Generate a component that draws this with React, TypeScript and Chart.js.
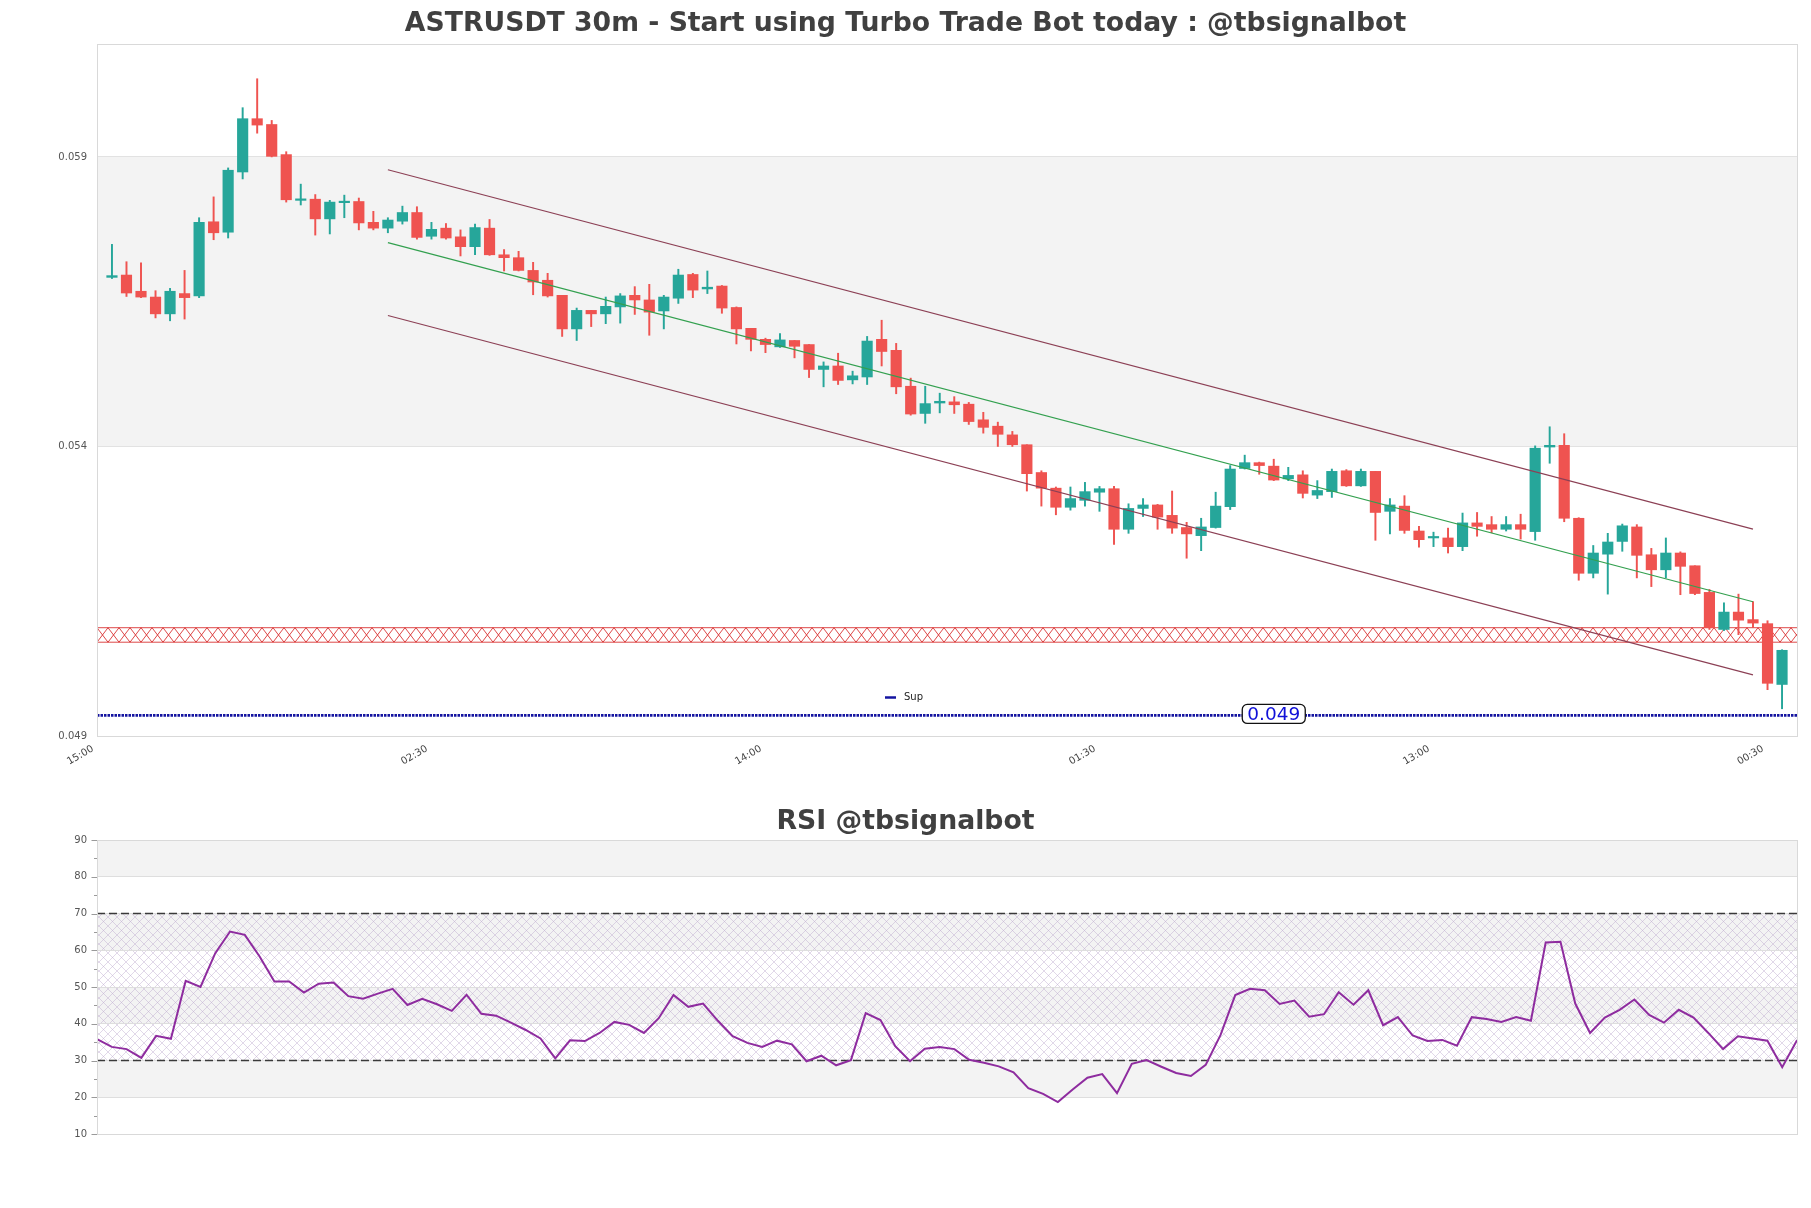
import React, { useEffect, useRef } from 'react';
import { Chart, registerables } from 'chart.js';

Chart.register(...registerables);

const W = 1811;
const MAIN_H = 800;
const RSI_H = 408;
const FONT = '"DejaVu Sans", "Liberation Sans", sans-serif';

// ---- candle data (30m) ----
const opens = [
  0.05692, 0.05696, 0.05668, 0.05658, 0.05629, 0.05664, 0.0566, 0.05788, 0.0577, 0.05874,
  0.05966, 0.05956, 0.05904, 0.05825, 0.05827, 0.05793, 0.05821, 0.05823, 0.05787, 0.05777,
  0.05789, 0.05804, 0.05763, 0.05777, 0.05762, 0.05745, 0.05777, 0.05731, 0.05726, 0.05704,
  0.05687, 0.05661, 0.05603, 0.05635, 0.05629, 0.05641, 0.05661, 0.05653, 0.05634, 0.05656,
  0.05697, 0.05672, 0.05677, 0.0564, 0.05604, 0.05585, 0.05572, 0.05583, 0.05576, 0.05533,
  0.05539, 0.05515, 0.0552, 0.05585, 0.05566, 0.05504, 0.05457, 0.05475, 0.05477, 0.05473,
  0.05446, 0.05435, 0.0542, 0.05403, 0.05355, 0.05328, 0.05295, 0.05307, 0.05321, 0.05327,
  0.05257, 0.05293, 0.05299, 0.05281, 0.0526, 0.05246, 0.0526, 0.05296, 0.05362, 0.05372,
  0.05366, 0.05344, 0.05351, 0.05316, 0.05322, 0.05358, 0.05332, 0.05357, 0.05288, 0.05297,
  0.05254, 0.05242, 0.05242, 0.05227, 0.05268, 0.05265, 0.05257, 0.05265, 0.05253, 0.05399,
  0.05402, 0.05276, 0.05181, 0.05214, 0.05236, 0.05261, 0.05213, 0.05187, 0.05216, 0.05194,
  0.05148, 0.05084, 0.05114, 0.05101, 0.05094, 0.04989,
];
const highs = [
  0.05749, 0.05719, 0.05717, 0.05669, 0.05673, 0.05704, 0.05795, 0.05831, 0.05881, 0.05985,
  0.06035, 0.05963, 0.05909, 0.05853, 0.05835, 0.05825, 0.05834, 0.05829, 0.05806, 0.05795,
  0.05815, 0.05814, 0.05787, 0.05785, 0.05774, 0.05784, 0.05792, 0.0574, 0.05737, 0.05718,
  0.05699, 0.05661, 0.05639, 0.05635, 0.05658, 0.05664, 0.05676, 0.0568, 0.05661, 0.05706,
  0.05699, 0.05703, 0.05678, 0.05641, 0.05604, 0.05587, 0.05595, 0.05583, 0.05576, 0.05546,
  0.05561, 0.0553, 0.0559, 0.05618, 0.05578, 0.05518, 0.05504, 0.05492, 0.05486, 0.05476,
  0.05459, 0.05442, 0.05426, 0.05403, 0.05358, 0.0533, 0.0533, 0.05338, 0.05331, 0.05331,
  0.05301, 0.0531, 0.053, 0.05323, 0.05269, 0.05276, 0.05321, 0.05367, 0.05385, 0.05373,
  0.05378, 0.05364, 0.05358, 0.05341, 0.05361, 0.0536, 0.05361, 0.05357, 0.0531, 0.05315,
  0.05262, 0.05252, 0.05259, 0.05285, 0.05286, 0.05279, 0.05279, 0.05283, 0.05401, 0.05434,
  0.05422, 0.05277, 0.05229, 0.0525, 0.05266, 0.05265, 0.05224, 0.05242, 0.05218, 0.05194,
  0.05153, 0.0513, 0.05145, 0.05132, 0.05099, 0.05049,
];
const lows = [
  0.0569, 0.05659, 0.05657, 0.05622, 0.05617, 0.0562, 0.05657, 0.05757, 0.0576, 0.05862,
  0.05941, 0.059, 0.05822, 0.05817, 0.05765, 0.05767, 0.05795, 0.05774, 0.05774, 0.05769,
  0.05784, 0.05758, 0.05758, 0.05758, 0.05729, 0.05731, 0.0573, 0.05703, 0.05703, 0.05662,
  0.05658, 0.0559, 0.05583, 0.05607, 0.05612, 0.05613, 0.05628, 0.05592, 0.05603, 0.05647,
  0.05657, 0.05664, 0.0563, 0.05577, 0.05565, 0.05562, 0.05571, 0.05553, 0.05519, 0.05503,
  0.05507, 0.05508, 0.05507, 0.05539, 0.05491, 0.05454, 0.0544, 0.05458, 0.05457, 0.05438,
  0.05423, 0.054, 0.054, 0.05323, 0.05297, 0.05282, 0.0529, 0.05297, 0.05288, 0.05231,
  0.0525, 0.05279, 0.05257, 0.0525, 0.05207, 0.0522, 0.05259, 0.05291, 0.05361, 0.05352,
  0.05341, 0.05341, 0.05311, 0.0531, 0.05312, 0.05331, 0.05331, 0.05238, 0.05249, 0.0525,
  0.05226, 0.05227, 0.05216, 0.0522, 0.05245, 0.05251, 0.05254, 0.0524, 0.05238, 0.05371,
  0.0527, 0.05169, 0.05173, 0.05145, 0.05219, 0.05173, 0.05158, 0.05173, 0.05144, 0.05144,
  0.05084, 0.05082, 0.05075, 0.05087, 0.0498, 0.04947,
];
const closes = [
  0.05695, 0.05665, 0.05658, 0.05629, 0.05668, 0.05657, 0.05787, 0.05769, 0.05877, 0.05966,
  0.05955, 0.05901, 0.05826, 0.05827, 0.05793, 0.05822, 0.05823, 0.05786, 0.05777, 0.05791,
  0.05804, 0.05761, 0.05775, 0.0576, 0.05745, 0.05778, 0.05731, 0.05726, 0.05704, 0.05684,
  0.0566, 0.05603, 0.05635, 0.05629, 0.05642, 0.0566, 0.05653, 0.05632, 0.05658, 0.05696,
  0.0567, 0.05675, 0.05639, 0.05603, 0.05585, 0.05576, 0.05584, 0.05573, 0.05533, 0.05539,
  0.05514, 0.05522, 0.05582, 0.05564, 0.05503, 0.05456, 0.05474, 0.05478, 0.05472, 0.05443,
  0.05433, 0.05421, 0.05403, 0.05353, 0.05328, 0.05295, 0.0531, 0.05322, 0.05327, 0.05257,
  0.05293, 0.05299, 0.05278, 0.05259, 0.05249, 0.05261, 0.05297, 0.05361, 0.05372, 0.05367,
  0.05342, 0.0535, 0.05319, 0.05324, 0.05357, 0.05332, 0.05357, 0.05286, 0.05299, 0.05255,
  0.05239, 0.05243, 0.05227, 0.05268, 0.05262, 0.05257, 0.05265, 0.05257, 0.05397, 0.05402,
  0.05276, 0.05181, 0.05216, 0.05235, 0.05263, 0.05212, 0.05187, 0.05216, 0.05193, 0.05146,
  0.05087, 0.05114, 0.051, 0.05095, 0.04991, 0.05048,
];

// ---- RSI values ----
const rsiValues = [
  35.8, 33.7, 33.1, 30.7, 36.7, 35.9, 51.7, 50.0, 59.2, 65.1,
  64.2, 58.3, 51.5, 51.5, 48.5, 50.9, 51.2, 47.5, 46.8, 48.2,
  49.5, 45.1, 46.8, 45.3, 43.5, 47.9, 42.7, 42.2, 40.3, 38.3,
  36.0, 30.6, 35.5, 35.3, 37.5, 40.5, 39.7, 37.5, 41.5, 47.8,
  44.6, 45.5, 40.8, 36.6, 34.8, 33.7, 35.4, 34.4, 29.8, 31.3,
  28.7, 30.1, 42.9, 41.0, 33.9, 29.8, 33.2, 33.7, 33.1, 30.2,
  29.4, 28.4, 26.8, 22.5, 20.9, 18.7, 22.1, 25.3, 26.3, 21.1,
  29.1, 30.1, 28.3, 26.6, 25.8, 28.8, 36.9, 47.8, 49.5, 49.1,
  45.4, 46.3, 41.9, 42.6, 48.6, 45.2, 49.1, 39.6, 41.8, 36.8,
  35.3, 35.6, 34.0, 41.8, 41.3, 40.5, 41.8, 40.8, 62.1, 62.3,
  45.5, 37.5, 41.7, 43.8, 46.6, 42.4, 40.3, 43.8, 41.7, 37.5,
  33.1, 36.6, 36.0, 35.4, 28.2, 35.5,
];

// ---- axes / annotations ----
const xTickIndex = [0, 23, 46, 69, 92, 115];
const xTickLabels = ['15:00', '02:30', '14:00', '01:30', '13:00', '00:30'];
const priceTicks = [0.049, 0.054, 0.059];
const priceBand = [0.054, 0.059];
const rsiTicks = [10, 20, 30, 40, 50, 60, 70, 80, 90];
const rsiGrayBands = [[80, 90], [60, 70], [40, 50], [20, 30]];
const rsiZone = [30, 70];

const channelX = [19, 113];
const channelUpper = [0.058779, 0.052572];
const channelMid = [0.057521, 0.051319];
const channelLower = [0.056262, 0.050055];

const supLevel = 0.049355;
const supLabel = '0.049';
const supLabelIndex = 80;
const zoneRange = [0.05062, 0.05087];

const TITLE_MAIN = 'ASTRUSDT 30m - Start using Turbo Trade Bot today : @tbsignalbot';
const TITLE_RSI = 'RSI @tbsignalbot';

const UP = '#26a69a';
const DOWN = '#ef5350';
const idx = opens.map((_, i) => i);

function drawFrame(ctx: CanvasRenderingContext2D, a: any) {
  ctx.save();
  ctx.strokeStyle = '#d9d9d9';
  ctx.lineWidth = 1;
  ctx.strokeRect(Math.round(a.left) + 0.5, Math.round(a.top) + 0.5, Math.round(a.right - a.left), Math.round(a.bottom - a.top));
  ctx.restore();
}

function drawTitle(ctx: CanvasRenderingContext2D, text: string, y: number) {
  ctx.save();
  ctx.font = `bold 26.7px ${FONT}`;
  ctx.fillStyle = '#404040';
  ctx.textAlign = 'center';
  ctx.textBaseline = 'middle';
  ctx.fillText(text, W / 2, y);
  ctx.restore();
}

const mainDecor = {
  id: 'mainDecor',
  beforeDraw(chart: any) {
    const { ctx, chartArea: a, scales } = chart;
    const y = scales.y;
    ctx.save();
    ctx.fillStyle = '#f3f3f3';
    const t = y.getPixelForValue(priceBand[1]);
    const b = y.getPixelForValue(priceBand[0]);
    ctx.fillRect(a.left, t, a.right - a.left, b - t);
    ctx.restore();
  },
  beforeDatasetsDraw(chart: any) {
    const { ctx, chartArea: a, scales } = chart;
    const y = scales.y;
    const t = y.getPixelForValue(zoneRange[1]);
    const b = y.getPixelForValue(zoneRange[0]);
    ctx.save();
    ctx.beginPath();
    ctx.rect(a.left, a.top, a.right - a.left, a.bottom - a.top);
    ctx.clip();
    ctx.strokeStyle = 'rgba(215,40,40,0.95)';
    ctx.lineWidth = 0.9;
    ctx.beginPath();
    const step = 11;
    for (let x = a.left; x < a.right; x += step) {
      ctx.moveTo(x, t);
      ctx.lineTo(x + step, b);
      ctx.moveTo(x + step, t);
      ctx.lineTo(x, b);
    }
    ctx.moveTo(a.left, t);
    ctx.lineTo(a.right, t);
    ctx.moveTo(a.left, b);
    ctx.lineTo(a.right, b);
    ctx.stroke();
    ctx.restore();
  },
  afterDraw(chart: any) {
    const { ctx, chartArea: a, scales } = chart;
    drawFrame(ctx, a);
    drawTitle(ctx, TITLE_MAIN, 24.5);
    // legend
    ctx.save();
    ctx.strokeStyle = '#1414a0';
    ctx.lineWidth = 2.5;
    ctx.beginPath();
    ctx.moveTo(885, 697.5);
    ctx.lineTo(896, 697.5);
    ctx.stroke();
    ctx.font = `10px ${FONT}`;
    ctx.fillStyle = '#222';
    ctx.textAlign = 'left';
    ctx.textBaseline = 'middle';
    ctx.fillText('Sup', 904, 697);
    // sup label
    const cx = scales.x.getPixelForValue(supLabelIndex);
    const cy = scales.y.getPixelForValue(supLevel) - 1.5;
    const bw = 63;
    const bh = 19;
    ctx.beginPath();
    (ctx as any).roundRect(cx - bw / 2, cy - bh / 2, bw, bh, 5);
    ctx.fillStyle = '#ffffff';
    ctx.fill();
    ctx.strokeStyle = '#111';
    ctx.lineWidth = 1.3;
    ctx.stroke();
    ctx.font = `18.5px ${FONT}`;
    ctx.fillStyle = '#1010d8';
    ctx.textAlign = 'center';
    ctx.textBaseline = 'middle';
    ctx.fillText(supLabel, cx, cy + 1);
    ctx.restore();
  },
};

let hatchPattern: CanvasPattern | null = null;
function getHatch(ctx: CanvasRenderingContext2D) {
  if (hatchPattern) return hatchPattern;
  const c = document.createElement('canvas');
  c.width = 9;
  c.height = 9;
  const g = c.getContext('2d')!;
  g.strokeStyle = 'rgba(185,165,205,0.55)';
  g.lineWidth = 0.8;
  g.beginPath();
  g.moveTo(0, 0);
  g.lineTo(9, 9);
  g.moveTo(9, 0);
  g.lineTo(0, 9);
  g.stroke();
  hatchPattern = ctx.createPattern(c, 'repeat');
  return hatchPattern;
}

const rsiDecor = {
  id: 'rsiDecor',
  beforeDraw(chart: any) {
    const { ctx, chartArea: a, scales } = chart;
    const y = scales.y;
    ctx.save();
    ctx.fillStyle = '#f3f3f3';
    rsiGrayBands.forEach(([lo, hi]) => {
      const t = y.getPixelForValue(hi);
      const b = y.getPixelForValue(lo);
      ctx.fillRect(a.left, t, a.right - a.left, b - t);
    });
    const zt = y.getPixelForValue(rsiZone[1]);
    const zb = y.getPixelForValue(rsiZone[0]);
    ctx.fillStyle = getHatch(ctx) as any;
    ctx.fillRect(a.left, zt, a.right - a.left, zb - zt);
    ctx.restore();
  },
  beforeDatasetsDraw(chart: any) {
    const { ctx, chartArea: a, scales } = chart;
    const y = scales.y;
    ctx.save();
    ctx.strokeStyle = '#3a3a3a';
    ctx.lineWidth = 1.3;
    ctx.setLineDash([8, 4]);
    rsiZone.forEach((v) => {
      const py = y.getPixelForValue(v);
      ctx.beginPath();
      ctx.moveTo(a.left, py);
      ctx.lineTo(a.right, py);
      ctx.stroke();
    });
    ctx.restore();
  },
  afterDraw(chart: any) {
    const { ctx, chartArea: a, scales } = chart;
    drawFrame(ctx, a);
    drawTitle(ctx, TITLE_RSI, 22.5);
    const y = scales.y;
    ctx.save();
    ctx.strokeStyle = '#9a9a9a';
    ctx.lineWidth = 1;
    for (let v = 10; v <= 90; v += 5) {
      const py = Math.round(y.getPixelForValue(v)) + 0.5;
      const len = v % 10 === 0 ? 5.5 : 3;
      ctx.beginPath();
      ctx.moveTo(a.left - len, py);
      ctx.lineTo(a.left, py);
      ctx.stroke();
    }
    ctx.restore();
  },
};

export default function App() {
  const mainRef = useRef<HTMLCanvasElement>(null);
  const rsiRef = useRef<HTMLCanvasElement>(null);

  useEffect(() => {
    const colors = idx.map((i) => (closes[i] >= opens[i] ? UP : DOWN));
    const main = new Chart(mainRef.current!, {
      type: 'bar',
      data: {
        datasets: [
          {
            type: 'bar',
            label: 'wicks',
            data: idx.map((i) => ({ x: i, y: [lows[i], highs[i]] })) as any,
            backgroundColor: colors,
            barThickness: 1.3,
            grouped: false,
            order: 3,
          } as any,
          {
            type: 'bar',
            label: 'bodies',
            data: idx.map((i) => ({ x: i, y: [opens[i], closes[i]] })) as any,
            backgroundColor: colors,
            barThickness: 10.5,
            minBarLength: 1.5,
            grouped: false,
            order: 2,
          } as any,
          {
            type: 'line',
            label: 'upper',
            data: channelX.map((x, k) => ({ x, y: channelUpper[k] })),
            borderColor: '#8c4055',
            borderWidth: 1.2,
            pointRadius: 0,
            order: 1,
          } as any,
          {
            type: 'line',
            label: 'mid',
            data: channelX.map((x, k) => ({ x, y: channelMid[k] })),
            borderColor: '#33a04f',
            borderWidth: 1.2,
            pointRadius: 0,
            order: 1,
          } as any,
          {
            type: 'line',
            label: 'lower',
            data: channelX.map((x, k) => ({ x, y: channelLower[k] })),
            borderColor: '#8c4055',
            borderWidth: 1.2,
            pointRadius: 0,
            order: 1,
          } as any,
          {
            type: 'line',
            label: 'Sup',
            data: [
              { x: -1.03, y: supLevel },
              { x: 116.03, y: supLevel },
            ],
            borderColor: '#1414a0',
            borderWidth: 2.7,
            borderDash: [2.5, 1],
            pointRadius: 0,
            order: 0,
          } as any,
        ],
      },
      options: {
        animation: false,
        responsive: false,
        devicePixelRatio: 1,
        events: [],
        layout: { padding: { left: 0, right: 14, top: 44, bottom: 0 } },
        plugins: { legend: { display: false }, tooltip: { enabled: false }, title: { display: false } },
        scales: {
          x: {
            type: 'linear',
            min: -1.03,
            max: 116.03,
            bounds: 'data',
            offset: false,
            afterFit: (s: any) => {
              s.height = 64;
            },
            afterBuildTicks: (s: any) => {
              s.ticks = xTickIndex.map((v) => ({ value: v }));
            },
            grid: { display: false, drawTicks: false },
            border: { display: false },
            ticks: {
              autoSkip: false,
              maxRotation: 30,
              minRotation: 30,
              padding: 7,
              labelOffset: -19,
              color: '#444',
              font: { family: FONT, size: 10 },
              callback: (_v: any, i: number) => xTickLabels[i] ?? '',
            },
          },
          y: {
            type: 'linear',
            min: 0.049,
            max: 0.06095,
            bounds: 'data',
            afterFit: (s: any) => {
              s.width = 97;
            },
            afterBuildTicks: (s: any) => {
              s.ticks = priceTicks.map((v) => ({ value: v }));
            },
            grid: { color: '#e2e2e2', drawTicks: false },
            border: { display: false },
            ticks: {
              padding: 10,
              color: '#555',
              font: { family: FONT, size: 10 },
              callback: (v: any) => Number(v).toFixed(3),
            },
          },
        },
      } as any,
      plugins: [mainDecor],
    });

    const rsi = new Chart(rsiRef.current!, {
      type: 'line',
      data: {
        datasets: [
          {
            label: 'RSI',
            data: rsiValues.map((v, i) => ({ x: i, y: v })),
            borderColor: '#8e2c9f',
            borderWidth: 2,
            pointRadius: 0,
            tension: 0,
          },
        ],
      },
      options: {
        animation: false,
        responsive: false,
        devicePixelRatio: 1,
        events: [],
        layout: { padding: { left: 0, right: 14, top: 40, bottom: 0 } },
        plugins: { legend: { display: false }, tooltip: { enabled: false }, title: { display: false } },
        scales: {
          x: {
            type: 'linear',
            min: 0,
            max: rsiValues.length - 1,
            bounds: 'data',
            afterFit: (s: any) => {
              s.height = 74;
            },
            grid: { display: false, drawTicks: false },
            border: { display: false },
            ticks: { display: false },
          },
          y: {
            type: 'linear',
            min: 10,
            max: 90,
            bounds: 'data',
            afterFit: (s: any) => {
              s.width = 97;
            },
            afterBuildTicks: (s: any) => {
              s.ticks = rsiTicks.map((v) => ({ value: v }));
            },
            grid: { color: '#dedede', drawTicks: false },
            border: { display: false },
            ticks: {
              padding: 10,
              color: '#555',
              font: { family: FONT, size: 10 },
              callback: (v: any) => String(v),
            },
          },
        },
      } as any,
      plugins: [rsiDecor],
    });

    return () => {
      main.destroy();
      rsi.destroy();
    };
  }, []);

  return (
    <div style={{ position: 'absolute', left: 0, top: 0, width: W, height: 1208, overflow: 'hidden', background: '#fff' }}>
      <canvas
        ref={mainRef}
        width={W}
        height={MAIN_H}
        style={{ position: 'absolute', left: 0, top: 0, width: W, height: MAIN_H, display: 'block' }}
      />
      <canvas
        ref={rsiRef}
        width={W}
        height={RSI_H}
        style={{ position: 'absolute', left: 0, top: MAIN_H, width: W, height: RSI_H, display: 'block' }}
      />
    </div>
  );
}
